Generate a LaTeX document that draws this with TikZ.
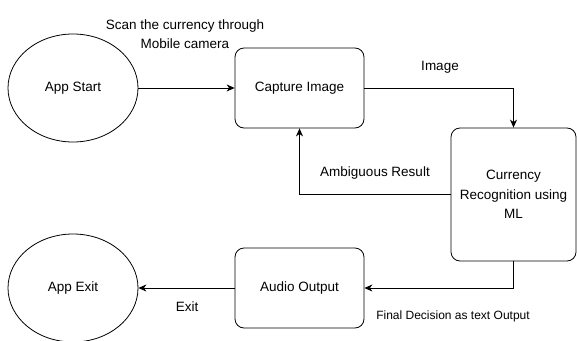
\documentclass[tikz,border=0pt]{standalone}
\usepackage{fontspec}
\setmainfont{Liberation Sans}
\usetikzlibrary{arrows.meta,shapes.geometric}
\begin{document}
\begin{tikzpicture}[x=1pt,y=-1pt,
  lbl/.style={font=\fontsize{13.5}{19.5}\selectfont, align=center, inner sep=0pt},
  box/.style={draw, line width=0.8pt, rounded corners=9pt, align=center,
    font=\fontsize{13.5}{19.5}\selectfont, inner sep=0pt},
  ell/.style={draw, ellipse, line width=0.8pt, inner sep=0pt,
    minimum width=130pt, minimum height=108pt, font=\fontsize{13.5}{19.5}\selectfont},
  arr/.style={-{Stealth[length=8pt,width=7pt,inset=2.5pt]}, line width=0.8pt}]
\useasboundingbox (0,0) rectangle (577,340);
\node[ell] (start) at (73,88) {App Start};
\node[box, minimum width=129pt, minimum height=80pt] (cap) at (299.5,88) {Capture Image};
\node[box, minimum width=125pt, minimum height=133pt] (cur) at (513.5,194.5) {Currency\\Recognition using\\ML};
\node[box, minimum width=129pt, minimum height=80pt] (aud) at (299.5,288) {Audio Output};
\node[ell] (exit) at (73,288) {App Exit};
\draw[arr] (start.east) -- (cap.west);
\draw[arr] (cap.east) -| (cur.north);
\draw[arr] (cur.west) -| (cap.south);
\draw[arr] (cur.south) |- (aud.east);
\draw[arr] (aud.west) -- (exit.east);
\node[lbl] (scan) at (185,34) {Scan the currency through\\Mobile camera};
\node[lbl] (img) at (440,67) {Image};
\node[lbl] (amb) at (375,173) {Ambiguous Result};
\node[lbl, font=\fontsize{12}{14}\selectfont] (fin) at (453,316) {Final Decision as text Output};
\node[lbl] (ex) at (187,307) {Exit};
\end{tikzpicture}
\end{document}
